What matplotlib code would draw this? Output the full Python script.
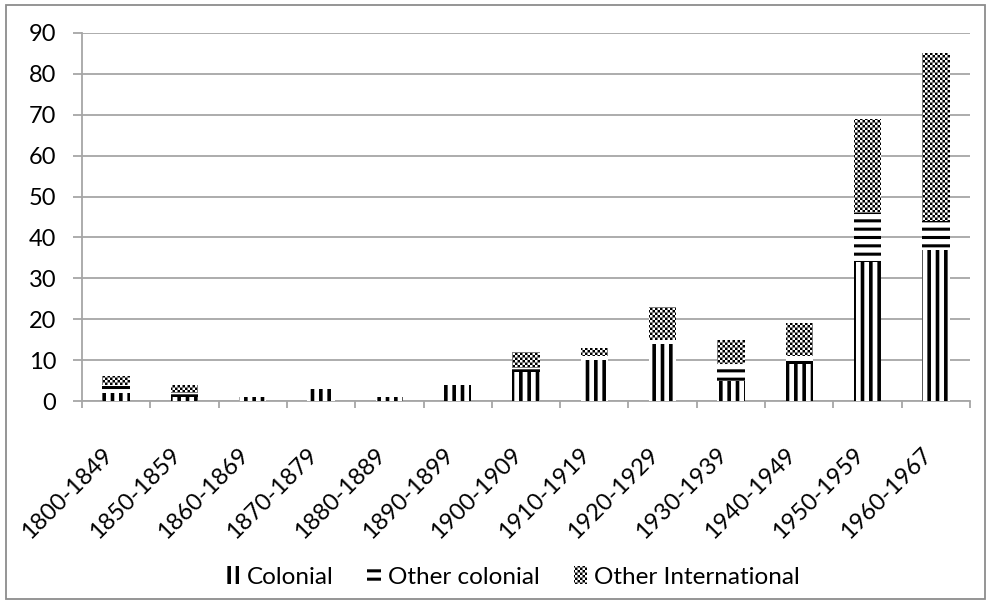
import warnings
import numpy as np
import matplotlib
matplotlib.use("Agg")
import matplotlib.pyplot as plt
import matplotlib.hatch as mhatch
from matplotlib.path import Path
from matplotlib.patches import Rectangle

warnings.filterwarnings("ignore", category=matplotlib.MatplotlibDeprecationWarning)

# ---- data -------------------------------------------------------------
periods = ["1800-1849", "1850-1859", "1860-1869", "1870-1879", "1880-1889",
           "1890-1899", "1900-1909", "1910-1919", "1920-1929", "1930-1939",
           "1940-1949", "1950-1959", "1960-1967"]
colonial = [2, 1, 1, 3, 1, 4, 7, 10, 14, 5, 9, 34, 37]
other_colonial = [2, 1, 0, 0, 0, 0, 1, 1, 1, 4, 2, 12, 7]
other_international = [2, 2, 0, 0, 0, 0, 4, 2, 8, 6, 8, 23, 41]
series_names = ["Colonial", "Other colonial", "Other International"]
y_ticks = list(range(0, 91, 10))


# ---- checkerboard fill pattern (hatch letter 'c') ----------------------
class CheckerHatch(mhatch.HatchPatternBase):
    def __init__(self, hatch, density):
        self.cells = hatch.count("c") * 10
        if self.cells % 2:
            self.cells += 1
        self.num_vertices = (self.cells * self.cells // 2) * 5

    def set_vertices_and_codes(self, vertices, codes):
        n = self.cells
        s = 1.0 / n
        k = 0
        for i in range(n):
            for j in range(n):
                if (i + j) % 2 == 0:
                    x0, y0 = j * s, i * s
                    vertices[k:k + 5] = [(x0, y0), (x0 + s, y0), (x0 + s, y0 + s),
                                         (x0, y0 + s), (x0, y0)]
                    codes[k] = Path.MOVETO
                    codes[k + 1:k + 4] = Path.LINETO
                    codes[k + 4] = Path.CLOSEPOLY
                    k += 5


mhatch._hatch_types.append(CheckerHatch)

plt.rcParams["font.family"] = ["Lato", "DejaVu Sans"]
plt.rcParams["hatch.linewidth"] = 2.2

GRID = "#a6a6a6"
W, H = 989, 603
AX_L, AX_R, AX_B, AX_T = 82, 970, 401, 33

fig = plt.figure(figsize=(W / 100, H / 100), dpi=100)
ax = fig.add_axes([AX_L / W, 1 - AX_B / H, (AX_R - AX_L) / W, (AX_B - AX_T) / H])

x = np.arange(len(periods))
bottom2 = np.array(colonial)
bottom3 = bottom2 + np.array(other_colonial)

styles = [("||", 2.6), ("--", 2.2), ("cccc", 0.0)]
containers = []
for vals, bot, name, (hatch, hlw) in zip(
        [colonial, other_colonial, other_international],
        [None, bottom2, bottom3], series_names, styles):
    bc = ax.bar(x, vals, width=0.4, bottom=bot, facecolor="white",
                edgecolor="black", linewidth=0, hatch=hatch, label=name,
                zorder=3)
    for p in bc:
        if hasattr(p, "set_hatch_linewidth"):
            p.set_hatch_linewidth(hlw)
    containers.append(bc)

ax.set_xlim(-0.5, len(periods) - 0.5)
ax.set_ylim(0, 90)
ax.set_yticks(y_ticks)
ax.set_yticklabels([str(v) for v in y_ticks])
ax.yaxis.grid(True, color=GRID, linewidth=1.3, zorder=0)
ax.set_axisbelow(True)

ax.set_xticks(x)
ax.set_xticklabels(periods, rotation=45, ha="right", va="top")
ax.set_xticks(np.arange(-0.5, len(periods)), minor=True)
ax.tick_params(axis="x", which="major", length=0, pad=31, labelsize=17)
ax.tick_params(axis="x", which="minor", length=5, width=1.3, color=GRID,
               direction="out")
ax.tick_params(axis="y", length=6.5, width=1.3, color=GRID, pad=12,
               labelsize=17)

for side in ("top", "right"):
    ax.spines[side].set_visible(False)
for side in ("left", "bottom"):
    ax.spines[side].set_color(GRID)
    ax.spines[side].set_linewidth(1.3)

leg = ax.legend(handles=containers, loc="center", ncol=3, frameon=False,
                bbox_to_anchor=(513 / W, 1 - 577 / H),
                bbox_transform=fig.transFigure,
                fontsize=17.5, handlelength=0.55, handleheight=0.75,
                handletextpad=0.3, columnspacing=1.4)
for h, (hatch, hlw) in zip(leg.legend_handles, styles):
    h.set_hatch(hatch)
    if hasattr(h, "set_hatch_linewidth"):
        h.set_hatch_linewidth(hlw)

# outer frame around the chart area
fig.patches.append(Rectangle((6 / W, 4 / H), (985 - 6) / W, (598 - 4) / H,
                             transform=fig.transFigure, fill=False,
                             edgecolor="#8c8c8c", linewidth=1.3))

fig.savefig("out.png", dpi=100)
